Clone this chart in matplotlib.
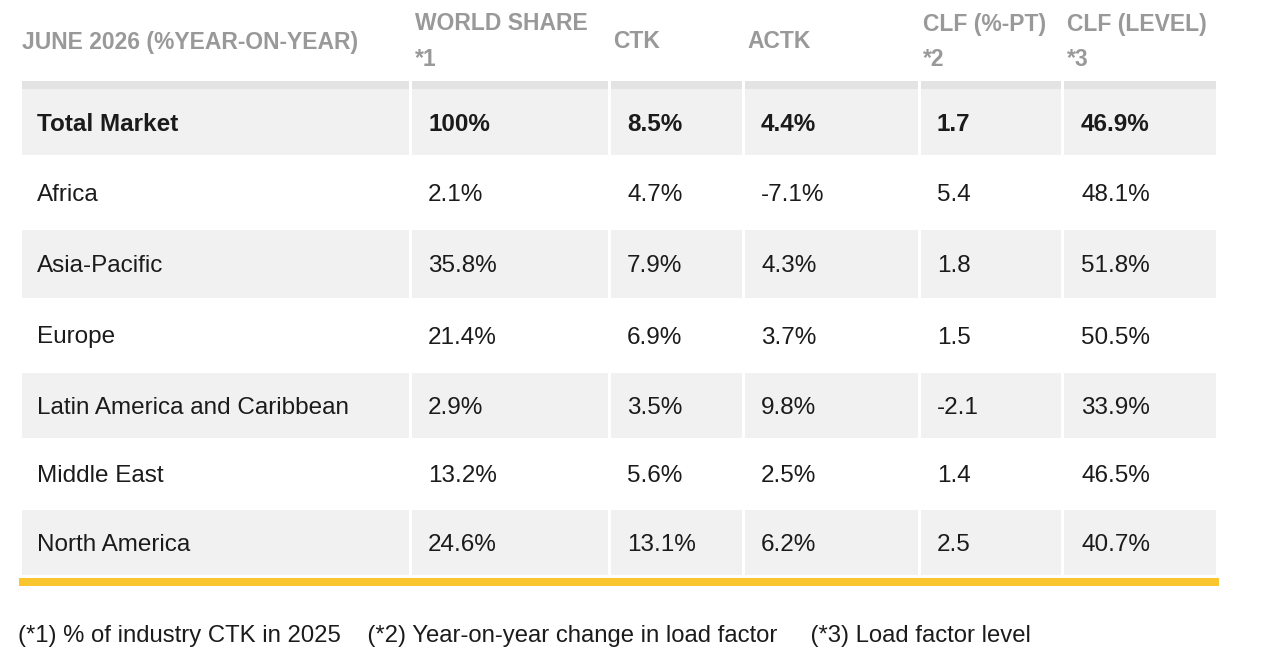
import matplotlib.pyplot as plt
from matplotlib.patches import Rectangle

plt.rcParams['font.family'] = ['Liberation Sans', 'DejaVu Sans']

headers = ["JUNE 2026 (%YEAR-ON-YEAR)", "WORLD SHARE\n*1", "CTK", "ACTK",
           "CLF (%-PT)\n*2", "CLF (LEVEL)\n*3"]
regions = ["Total Market", "Africa", "Asia-Pacific", "Europe",
           "Latin America and Caribbean", "Middle East", "North America"]
world_share = [100, 2.1, 35.8, 21.4, 2.9, 13.2, 24.6]
ctk = [8.5, 4.7, 7.9, 6.9, 3.5, 5.6, 13.1]
actk = [4.4, -7.1, 4.3, 3.7, 9.8, 2.5, 6.2]
clf_pt = [1.7, 5.4, 1.8, 1.5, -2.1, 1.4, 2.5]
clf_level = [46.9, 48.1, 51.8, 50.5, 33.9, 46.5, 40.7]
footnote = "(*1) % of industry CTK in 2025    (*2) Year-on-year change in load factor     (*3) Load factor level"

W, H = 1271, 657
fig = plt.figure(figsize=(W / 100, H / 100), dpi=100)
ax = fig.add_axes([0, 0, 1, 1])
ax.set_xlim(0, W)
ax.set_ylim(H, 0)
ax.axis('off')

col_left = [22, 412, 611, 745, 921, 1064]
col_right = [409, 608, 742, 918, 1061, 1216]
row_top = [89, 157, 230, 300, 373, 440, 510]
row_bot = [155, 228, 298, 370, 438, 508, 575]
fill = '#f1f1f1'
grey_txt = '#999999'
dark = '#1b1b1b'

# header
hdr_x = [22, 415, 613, 747, 923, 1067]
for x, h in zip(hdr_x, headers):
    if "\n" in h:
        a, b = h.split("\n")
        ax.text(x, 24, a, fontsize=16.5, fontweight='bold', color=grey_txt, va='center', ha='left')
        ax.text(x, 59, b, fontsize=16.5, fontweight='bold', color=grey_txt, va='center', ha='left')
    else:
        ax.text(x, 42, h, fontsize=16.5, fontweight='bold', color=grey_txt, va='center', ha='left')

# top band
for l, r in zip(col_left, col_right):
    ax.add_patch(Rectangle((l, 81), r - l, 8, color='#e3e3e3', lw=0))

cells = []
for i in range(len(regions)):
    cells.append([regions[i], f"{world_share[i]:g}%", f"{ctk[i]:.1f}%", f"{actk[i]:.1f}%",
                  f"{clf_pt[i]:.1f}", f"{clf_level[i]:.1f}%"])

txt_x = [37, 428, 627, 761, 937, 1081]
for i, row in enumerate(cells):
    t, b = row_top[i], row_bot[i]
    if i % 2 == 0:
        for l, r in zip(col_left, col_right):
            ax.add_patch(Rectangle((l, t), r - l, b - t, color=fill, lw=0))
    yc = (t + b) / 2 + 2.5
    for x, s in zip(txt_x, row):
        ax.text(x, yc, s, fontsize=17.5, color=dark, va='center', ha='left',
                fontweight='bold' if i == 0 else 'normal')

# yellow rule
ax.add_patch(Rectangle((19, 578), 1219 - 19, 8, color='#f9c62f', lw=0))

ax.text(18, 636, footnote, fontsize=17.2, color=dark, va='center', ha='left')

fig.savefig('out.png', dpi=100, facecolor='white')
